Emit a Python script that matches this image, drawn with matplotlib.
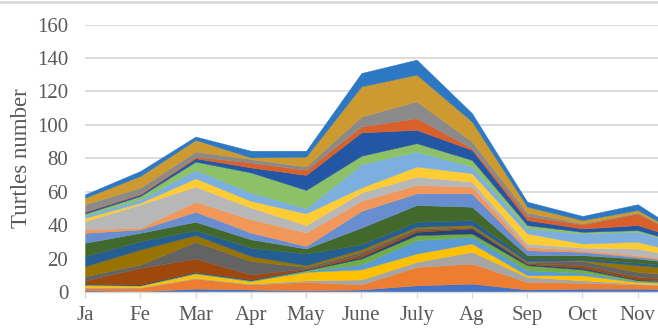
import matplotlib
matplotlib.use('Agg')
import matplotlib.pyplot as plt
from matplotlib.lines import Line2D
import numpy as np

months = ['Ja', 'Fe', 'Mar', 'Apr', 'May', 'June', 'July', 'Ag', 'Sep', 'Oct', 'Nov', 'Dec']

s01 = [1, 0.5, 2, 1.5, 1, 1.5, 4, 5, 1.5, 2, 2, 1.5]
s02 = [1.5, 2, 6, 3, 5, 3, 11, 12, 4.5, 3.5, 2.5, 2]
s03 = [0.5, 0.3, 0.5, 0.5, 1, 3, 3, 7, 3, 1.5, 0.5, 0.5]
s04 = [1, 1, 2.5, 1.5, 5, 6, 5, 5, 1, 3, 1, 1]
s05 = [0.3, 0.2, 0.3, 0.3, 0.5, 3, 8, 4, 3, 1.5, 0.5, 0.5]
s06 = [0.3, 0.2, 0.3, 0.3, 0.5, 3.5, 3, 2, 3, 2, 0.5, 0.5]
s07 = [0.3, 0.2, 0.4, 0.4, 0.5, 1, 2, 3, 0.7, 1, 0.5, 0.5]
s08 = [2, 10, 8, 3, 0.5, 1.5, 1, 0.5, 0.6, 1.5, 1.5, 1]
s09 = [2.5, 2, 10, 8, 1, 1.5, 1, 0.5, 0.7, 2.5, 3, 2]
s10 = [6, 9, 4, 3, 1, 1.5, 1, 1, 0.5, 0.5, 4, 4]
s11 = [6, 5, 3, 5, 7, 3, 3, 3, 1.5, 1, 1.5, 1]
s12 = [8, 5, 5, 5, 3, 10, 10, 8, 2, 2, 2.5, 2]
s13 = [6, 2, 6, 4, 1.5, 10, 7, 8, 3, 2, 1, 1]
s14 = [2, 1, 6, 8, 8, 6, 5, 4, 2, 1, 1, 0.5]
s15 = [5, 14, 9, 7, 4.5, 5, 5, 3, 2, 1.5, 4, 1.5]
s16 = [2, 1, 5, 4, 7, 3, 6, 5, 6, 2.5, 4, 2.5]
s17 = [1.5, 2, 5, 5, 3, 14, 9, 4, 3, 6, 6, 5]
s18 = [1, 2, 5, 12, 11, 5, 5, 4, 2, 1, 1, 0.5]
s19 = [1, 1, 2, 3, 9, 14, 8, 6, 3, 2, 3, 2]
s20 = [0.5, 0.5, 1, 3, 3, 3.5, 7, 1, 2.5, 2.5, 7, 0.5]
s21 = [4, 3.5, 3, 2, 2, 6, 10, 4, 2, 0.5, 0.5, 0.3]
s22 = [4, 7, 7, 1, 6, 18, 16, 12, 3.5, 2, 1.5, 0.5]
s23 = [2, 3, 2, 4, 3.5, 8, 9, 5, 3, 2.5, 3.5, 0.5]

series = [s01, s02, s03, s04, s05, s06, s07, s08, s09, s10, s11, s12,
          s13, s14, s15, s16, s17, s18, s19, s20, s21, s22, s23]

colors = ['#4472C4', '#ED7D31', '#A5A5A5', '#FFC000', '#5B9BD5', '#70AD47',
          '#264478', '#9E480E', '#636363', '#997300', '#255E91', '#43682B',
          '#698ED0', '#F1975A', '#B7B7B7', '#FFCD33', '#7CAFDD', '#8CC168',
          '#2456A6', '#D9602A', '#8A8A8A', '#CC9A30', '#2C78C2']

fig = plt.figure(figsize=(6.58, 3.32), dpi=100)
W, H = 658, 332
ax = fig.add_axes([85 / W, 40 / H, 608 / W, 267.5 / H])

x = np.arange(len(months))
polys = ax.stackplot(x, *series, colors=colors)
for p, c in zip(polys, colors):
    p.set_edgecolor(c)
    p.set_linewidth(0.3)

ax.set_xlim(0, len(months) - 1)
ax.set_ylim(0, 160)
ax.set_yticks(np.arange(0, 161, 20))
ax.set_xticks(x)
ax.set_xticklabels(months)

ax.grid(axis='y', color='#D9D9D9', lw=1.3)
ax.set_axisbelow(True)
for s in ['top', 'right', 'left']:
    ax.spines[s].set_visible(False)
ax.spines['bottom'].set_color('#D9D9D9')
ax.spines['bottom'].set_linewidth(1.0)

font = 'Liberation Serif'
ax.tick_params(axis='y', length=0, pad=12, labelsize=15, labelcolor='#595959')
ax.tick_params(axis='x', length=4, width=1, color='#D9D9D9', pad=6,
               labelsize=15, labelcolor='#595959')
for lab in ax.get_xticklabels() + ax.get_yticklabels():
    lab.set_fontfamily(font)

ax.set_ylabel('Turtles number', fontsize=16.5, color='#595959', fontfamily=font)
ax.yaxis.label.set_va('center')
ax.yaxis.set_label_coords(-(85 - 22) / 608, 0.5)

fig.add_artist(Line2D([0, 1], [1 - 1.5 / H, 1 - 1.5 / H], transform=fig.transFigure,
                      color='#D9D9D9', lw=2))

fig.savefig('out.png', dpi=100)
